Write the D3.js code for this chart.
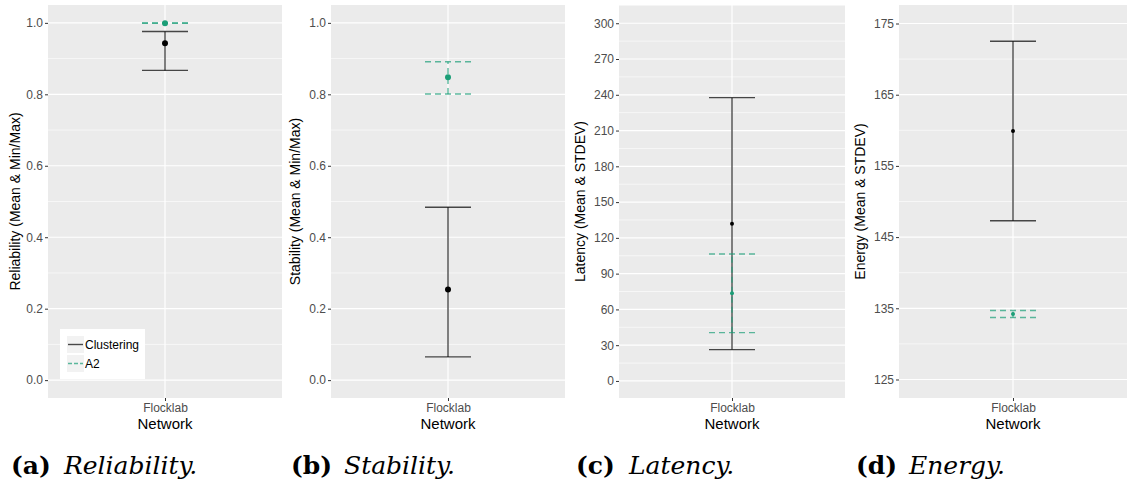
<!DOCTYPE html>
<html>
<head>
<meta charset="utf-8">
<script src="https://cdn.jsdelivr.net/npm/d3@7"></script>
<style>
  body { margin: 0; background: #fff; }
  svg { display: block; }
</style>
</head>
<body>
<svg id="chart"></svg>
<script>
// values (one entry per panel)
const metrics = ["Reliability", "Stability", "Latency", "Energy"];
const letters = ["(a)", "(b)", "(c)", "(d)"];
const yTitles = ["Reliability (Mean & Min/Max)", "Stability (Mean & Min/Max)",
                 "Latency (Mean & STDEV)", "Energy (Mean & STDEV)"];
const networks = ["Flocklab"];
const series = ["Clustering", "A2"];

const clusteringMean = [0.943, 0.254, 131.9, 159.9];
const clusteringLow  = [0.867, 0.065, 26.3, 147.3];
const clusteringHigh = [0.976, 0.484, 237.6, 172.5];
const a2Mean = [0.999, 0.848, 73.5, 134.2];
const a2Low  = [0.999, 0.801, 40.5, 133.7];
const a2High = [1.0, 0.891, 106.5, 134.7];

const yDomains = [[-0.05, 1.05], [-0.05, 1.05], [-14.3, 315.3], [122.4, 177.6]];
const yTicks = [
  [0, 0.2, 0.4, 0.6, 0.8, 1.0],
  [0, 0.2, 0.4, 0.6, 0.8, 1.0],
  [0, 30, 60, 90, 120, 150, 180, 210, 240, 270, 300],
  [125, 135, 145, 155, 165, 175]
];
const tickFormats = [".1f", ".1f", "d", "d"];

const W = 1129, H = 484;
const GREEN = "#1b9e77";

// panel geometry
const panels = [
  { x0: 0,   left: 48,  right: 282,  r: 3 },
  { x0: 280, left: 331, right: 565,  r: 3 },
  { x0: 565, left: 619, right: 845,  r: 2 },
  { x0: 845, left: 899, right: 1127, r: 2 }
];
const plotTop = 5, plotBottom = 398;
const capHalf = 23;

const svg = d3.select("#chart").attr("width", W).attr("height", H)
  .style("font-family", "'Liberation Sans', Arial, sans-serif");

panels.forEach((p, i) => {
  const g = svg.append("g");
  const y = d3.scaleLinear().domain(yDomains[i]).range([plotBottom, plotTop]);
  const x = d3.scalePoint().domain(networks).range([p.left, p.right]).padding(0.5);

  g.append("rect")
    .attr("x", p.left).attr("y", plotTop)
    .attr("width", p.right - p.left).attr("height", plotBottom - plotTop)
    .attr("fill", "#ebebeb");

  // minor gridlines halfway between ticks
  const t = yTicks[i];
  const step = t[1] - t[0];
  const minor = t.map(v => v - step / 2).concat([t[t.length - 1] + step / 2])
    .filter(v => y(v) > plotTop && y(v) < plotBottom);
  g.selectAll(".minor").data(minor).enter().append("line")
    .attr("x1", p.left).attr("x2", p.right)
    .attr("y1", d => y(d)).attr("y2", d => y(d))
    .attr("stroke", "#fff").attr("stroke-width", 0.6);
  g.selectAll(".major").data(t).enter().append("line")
    .attr("x1", p.left).attr("x2", p.right)
    .attr("y1", d => y(d)).attr("y2", d => y(d))
    .attr("stroke", "#fff").attr("stroke-width", 1.2);
  g.selectAll(".vgrid").data(networks).enter().append("line")
    .attr("x1", d => x(d)).attr("x2", d => x(d))
    .attr("y1", plotTop).attr("y2", plotBottom)
    .attr("stroke", "#fff").attr("stroke-width", 1.2);

  // axes
  const yAxis = d3.axisLeft(y).tickValues(t).tickFormat(d3.format(tickFormats[i]))
    .tickSize(3).tickPadding(2);
  const ya = g.append("g").attr("transform", `translate(${p.left},0)`).call(yAxis);
  ya.select(".domain").remove();
  ya.selectAll("line").attr("stroke", "#333");
  ya.selectAll("text").attr("fill", "#4d4d4d").style("font-size", "12px")
    .style("font-family", "'Liberation Sans', Arial, sans-serif");

  const xAxis = d3.axisBottom(x).tickSize(3).tickPadding(2);
  const xa = g.append("g").attr("transform", `translate(0,${plotBottom})`).call(xAxis);
  xa.select(".domain").remove();
  xa.selectAll("line").attr("stroke", "#333");
  xa.selectAll("text").attr("fill", "#4d4d4d").style("font-size", "12px")
    .style("font-family", "'Liberation Sans', Arial, sans-serif");

  g.append("text")
    .attr("x", (p.left + p.right) / 2).attr("y", 429)
    .attr("text-anchor", "middle").style("font-size", "15px")
    .text("Network");

  g.append("text")
    .attr("transform", `translate(${p.x0 + 20},${(plotTop + plotBottom) / 2}) rotate(-90)`)
    .attr("text-anchor", "middle").style("font-size", "14px")
    .text(yTitles[i]);

  // error bars: clustering first, A2 on top
  const bars = [
    { name: "Clustering", mean: clusteringMean[i], lo: clusteringLow[i], hi: clusteringHigh[i], color: "#000", dash: null },
    { name: "A2", mean: a2Mean[i], lo: a2Low[i], hi: a2High[i], color: GREEN, dash: "6,4" }
  ];
  bars.forEach(b => {
    const cx = x(networks[0]);
    const eb = g.append("g").attr("stroke", b.color).attr("stroke-opacity", 0.7)
      .attr("stroke-width", 1.4).attr("stroke-dasharray", b.dash);
    eb.append("line").attr("x1", cx).attr("x2", cx).attr("y1", y(b.lo)).attr("y2", y(b.hi));
    [b.lo, b.hi].forEach(v => {
      eb.append("line").attr("x1", cx - capHalf).attr("x2", cx + capHalf)
        .attr("y1", y(v)).attr("y2", y(v));
    });
    g.append("circle").attr("cx", cx).attr("cy", y(b.mean)).attr("r", p.r)
      .attr("fill", b.color);
  });

  // caption
  const capFont = "'DejaVu Serif', 'Liberation Serif', serif";
  g.append("text")
    .attr("x", p.x0 + 11).attr("y", 474)
    .style("font-family", capFont).style("font-size", "25px")
    .style("font-weight", "bold")
    .text(letters[i]);
  g.append("text")
    .attr("x", p.x0 + 64).attr("y", 474)
    .style("font-family", capFont).style("font-size", "25px")
    .style("font-style", "italic")
    .text(metrics[i] + ".");
});

// legend in first panel
const leg = svg.append("g").attr("transform", "translate(60,329)");
leg.append("rect").attr("width", 85).attr("height", 50).attr("fill", "#fff");
const items = leg.selectAll(".item").data(series).enter().append("g")
  .attr("transform", (d, k) => `translate(7,${7 + k * 19})`);
items.append("rect").attr("width", 17).attr("height", 17).attr("fill", "#f2f2f2");
items.append("line").attr("x1", 1).attr("x2", 16).attr("y1", 8.5).attr("y2", 8.5)
  .attr("stroke", (d, k) => k === 0 ? "#000" : GREEN)
  .attr("stroke-opacity", 0.7).attr("stroke-width", 1.4)
  .attr("stroke-dasharray", (d, k) => k === 0 ? null : "4,2");
items.append("text").attr("x", 18).attr("y", 8.5).attr("dy", "0.35em")
  .style("font-size", "12px").text(d => d);
</script>
</body>
</html>
